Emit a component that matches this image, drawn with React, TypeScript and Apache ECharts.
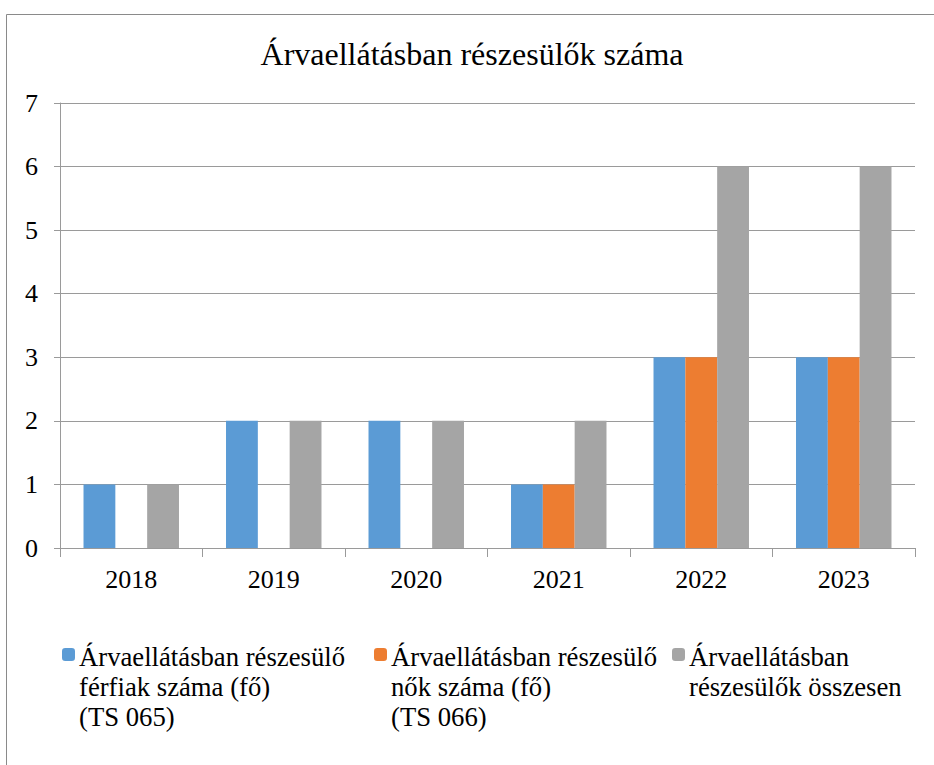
import React, { useEffect, useRef } from "react";
import * as echarts from "echarts";

const title = "Árvaellátásban részesülők száma";
const years = ["2018", "2019", "2020", "2021", "2022", "2023"];
const seriesNames = [
  "Árvaellátásban részesülő férfiak száma (fő) (TS 065)",
  "Árvaellátásban részesülő nők száma (fő) (TS 066)",
  "Árvaellátásban részesülők összesen",
];
const legendLines = [
  ["Árvaellátásban részesülő", "férfiak száma (fő)", "(TS 065)"],
  ["Árvaellátásban részesülő", "nők száma (fő)", "(TS 066)"],
  ["Árvaellátásban", "részesülők összesen"],
];
const men = [1, 2, 2, 1, 3, 3];
const women = [0, 0, 0, 1, 3, 3];
const total = [1, 2, 2, 2, 6, 6];
const colors = ["#5B9BD5", "#ED7D31", "#A5A5A5"];

const FONT = "Liberation Serif";

export default function App() {
  const ref = useRef<HTMLDivElement>(null);
  useEffect(() => {
    if (!ref.current) return;
    const chart = echarts.init(ref.current, null, { renderer: "svg" });
    const values = [men, women, total];
    const legendLefts = [62, 374, 672];
    const iconTop = 648;
    const iconSize = 13;
    const legends = seriesNames.map((name, i) => ({
      show: true,
      data: [name],
      left: legendLefts[i],
      top: iconTop,
      padding: 0,
      itemWidth: iconSize,
      itemHeight: iconSize,
      selectedMode: false,
      formatter: () => "",
      textStyle: { fontSize: 1 },
    }));
    const legendTexts: any[] = [];
    legendLines.forEach((lines, i) => {
      lines.forEach((line, j) => {
        legendTexts.push({
          type: "text",
          left: legendLefts[i] + 17,
          top: 643 + j * 30,
          silent: true,
          style: {
            text: line,
            fontFamily: FONT,
            fontSize: 26.7,
            fill: "#000",
          },
        });
      });
    });
    chart.setOption({
      animation: false,
      backgroundColor: "#fff",
      title: {
        text: title,
        left: 472,
        textAlign: "center",
        top: 38,
        padding: 0,
        textStyle: {
          fontFamily: FONT,
          fontSize: 32,
          fontWeight: "normal",
          color: "#000",
        },
      },
      legend: legends,
      grid: { left: 60, right: 19, top: 103, bottom: 217, containLabel: false },
      xAxis: {
        type: "category",
        data: years,
        axisLine: { show: true, lineStyle: { color: "#9a9a9a", width: 1 } },
        axisTick: { show: true, length: 9, alignWithLabel: false, lineStyle: { color: "#9a9a9a" } },
        axisLabel: { fontFamily: FONT, fontSize: 26, color: "#000", margin: 18 },
        splitLine: { show: false },
      },
      yAxis: {
        type: "value",
        min: 0,
        max: 7,
        interval: 1,
        axisLine: { show: true, lineStyle: { color: "#9a9a9a", width: 1 } },
        axisTick: { show: true, length: 6, lineStyle: { color: "#9a9a9a" } },
        axisLabel: { fontFamily: FONT, fontSize: 26, color: "#000", margin: 22 },
        splitLine: { show: true, lineStyle: { color: "#9a9a9a", width: 1 } },
      },
      series: seriesNames.map((name, i) => ({
        name,
        type: "bar",
        data: values[i],
        barGap: "0%",
        barCategoryGap: "33%",
        itemStyle: { color: colors[i] },
      })),
      graphic: [
        {
          type: "rect",
          left: 4,
          top: 12,
          shape: { x: 0, y: 0, width: 1000, height: 1000 },
          style: { fill: "none", stroke: "#8a8a8a", lineWidth: 1 },
          silent: true,
          z: 100,
        },
        ...legendTexts,
      ],
    });
    return () => chart.dispose();
  }, []);
  return (
    <div
      ref={ref}
      style={{ position: "fixed", left: 0, top: 0, width: 934, height: 765 }}
    />
  );
}
